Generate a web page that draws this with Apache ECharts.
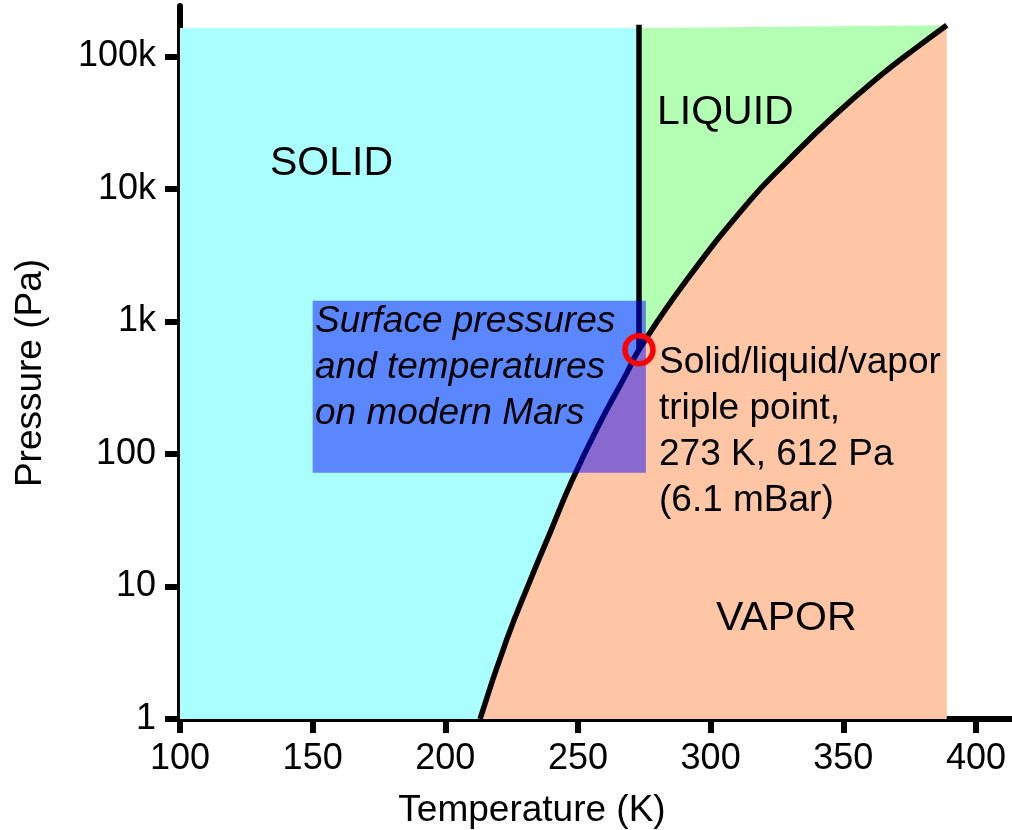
<!DOCTYPE html>
<html>
<head>
<meta charset="utf-8">
<title>Phase diagram of water with Martian surface conditions</title>
<script src="https://cdn.jsdelivr.net/npm/echarts@6/dist/echarts.min.js"></script>
<style>
  html, body { margin: 0; padding: 0; background: #ffffff; }
  #chart { width: 1012px; height: 830px; }
</style>
</head>
<body>
<div id="chart"></div>
<script>
// Axis ticks
const tempTicks = [100, 150, 200, 250, 300, 350, 400];
const pressureTicks = [1, 10, 100, 1000, 10000, 100000];
const pressureTickLabels = ['1', '10', '100', '1k', '10k', '100k'];

// Axis extents (K, Pa)
const tempMin = 100, tempMax = 420;
const pressureMin = 1, pressureMax = 240000;

// Ice / vapour boundary (sublimation curve), K and Pa
const sublimationT = [213.1, 223.1, 231.9, 239.5, 247.6, 258.3, 268.4, 273];
const sublimationP = [1, 3.95, 11, 25.5, 62, 172, 408, 612];

// Liquid / vapour boundary (boiling curve), K and Pa
const vaporizationT = [273, 291, 314.9, 328.7, 346.2, 365.1, 377.7, 389];
const vaporizationP = [612, 2056, 8200, 16000, 35100, 74700, 117000, 172000];

// Triple point and the melting line above it
const triplePoint = [273, 612];
const meltingTopP = 173000;

// Extent of the shaded phase regions
const regionLeftT = 100, regionRightT = 389, regionTopP = 164000;

// Range of Martian surface conditions
const marsT = [150, 275.6];
const marsP = [72, 1430];

const FONT = '"Liberation Sans", Arial, Helvetica, sans-serif';
const lg = Math.log10;
const pt = (t, p) => [t, lg(p)];

const sublimation = sublimationT.map((t, i) => pt(t, sublimationP[i]));
const vaporization = vaporizationT.map((t, i) => pt(t, vaporizationP[i]));
const curve = sublimation.concat(vaporization.slice(1));

const solidRegion = [pt(regionLeftT, pressureMin)]
  .concat(sublimation)
  .concat([pt(triplePoint[0], regionTopP), pt(regionLeftT, regionTopP)]);
const liquidRegion = vaporization
  .concat([pt(triplePoint[0], regionTopP)]);
const vaporRegion = sublimation.concat(vaporization.slice(1))
  .concat([pt(regionRightT, pressureMin)]);
const marsRegion = [pt(marsT[0], marsP[0]), pt(marsT[1], marsP[0]),
                    pt(marsT[1], marsP[1]), pt(marsT[0], marsP[1])];

function polygonSeries(points, fill, z) {
  return {
    type: 'custom',
    coordinateSystem: 'cartesian2d',
    silent: true,
    animation: false,
    z: z,
    data: [points[0]],
    renderItem: function (params, api) {
      return {
        type: 'polygon',
        shape: { points: points.map(p => api.coord(p)) },
        style: { fill: fill }
      };
    }
  };
}

function lineSeries(data, z, smooth) {
  return {
    type: 'line',
    data: data,
    symbol: 'none',
    silent: true,
    animation: false,
    smooth: smooth,
    z: z,
    lineStyle: { color: '#000000', width: 5.5 }
  };
}

function textItem(text, x, y, size, extra) {
  return {
    type: 'text',
    x: x,
    y: y,
    z: 100,
    silent: true,
    style: Object.assign({
      text: text,
      fontSize: size,
      fontFamily: FONT,
      fill: '#000000',
      align: 'left',
      verticalAlign: 'middle'
    }, extra || {})
  };
}

const chart = echarts.init(document.getElementById('chart'), null, { renderer: 'canvas' });

chart.setOption({
  animation: false,
  backgroundColor: '#ffffff',
  grid: { left: 180, top: 6, width: 849, height: 713, containLabel: false, outerBoundsMode: 'none' },
  xAxis: {
    type: 'value',
    min: tempMin,
    max: tempMax,
    name: 'Temperature (K)',
    nameLocation: 'middle',
    nameGap: 73,
    nameTextStyle: { fontSize: 37, fontFamily: FONT, color: '#000', padding: [0, 145, 0, 0] },
    splitLine: { show: false },
    axisLine: { show: true, onZero: false, lineStyle: { color: '#000', width: 6 } },
    axisTick: { show: true, inside: false, length: 14, customValues: tempTicks,
                lineStyle: { color: '#000', width: 6 } },
    axisLabel: { show: true, customValues: tempTicks, margin: 22, fontSize: 36,
                 fontFamily: FONT, color: '#000' }
  },
  yAxis: {
    type: 'value',
    min: lg(pressureMin),
    max: lg(pressureMax),
    name: 'Pressure (Pa)',
    nameLocation: 'middle',
    nameGap: 131,
    nameTextStyle: { fontSize: 37, fontFamily: FONT, color: '#000', padding: [0, 21, 0, 0] },
    splitLine: { show: false },
    axisLine: { show: true, onZero: false, lineStyle: { color: '#000', width: 6 } },
    axisTick: { show: true, inside: false, length: 15, customValues: pressureTicks.map(lg),
                lineStyle: { color: '#000', width: 6 } },
    axisLabel: {
      show: true, customValues: pressureTicks.map(lg), margin: 24, fontSize: 36,
      fontFamily: FONT, color: '#000',
      formatter: v => pressureTickLabels[Math.round(v)]
    }
  },
  series: [
    polygonSeries(solidRegion, '#aaffff', 1),
    polygonSeries(liquidRegion, '#b3ffb3', 1),
    polygonSeries(vaporRegion, '#ffc6a5', 1),
    lineSeries(curve, 2, 0.5),
    lineSeries([pt(triplePoint[0], triplePoint[1]), pt(triplePoint[0], meltingTopP)], 2, false),
    polygonSeries(marsRegion, 'rgba(0, 0, 255, 0.47)', 3),
    {
      type: 'scatter',
      data: [pt(triplePoint[0], triplePoint[1])],
      symbol: 'circle',
      symbolSize: 28,
      silent: true,
      animation: false,
      z: 4,
      itemStyle: { color: 'rgba(0,0,0,0)', borderColor: '#ff0000', borderWidth: 5.5, opacity: 1 }
    }
  ],
  graphic: [
    textItem('SOLID', 270, 163.4, 41),
    textItem('LIQUID', 657, 112.6, 41),
    textItem('VAPOR', 716, 618.4, 41),
    textItem('Solid/liquid/vapor\ntriple point,\n273 K, 612 Pa\n(6.1 mBar)', 659, 339.6, 37,
             { verticalAlign: 'top', lineHeight: 46 }),
    textItem('Surface pressures\nand temperatures\non modern Mars', 315, 299.1, 37,
             { verticalAlign: 'top', lineHeight: 46, fontStyle: 'italic' })
  ]
});
</script>
</body>
</html>
